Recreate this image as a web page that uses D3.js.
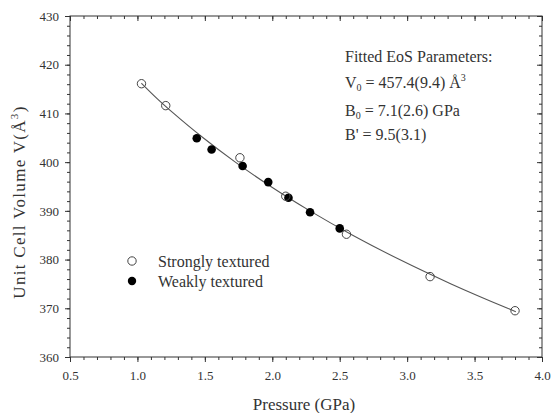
<!DOCTYPE html>
<html>
<head>
<meta charset="utf-8">
<script src="https://cdn.jsdelivr.net/npm/d3@7"></script>
<style>
  body { margin: 0; background: #fff; }
  svg { display: block; }
</style>
</head>
<body>
<div id="chart"></div>
<script>
// strongly textured (open circles)
const strongP = [1.03, 1.21, 1.76, 2.10, 2.55, 3.17, 3.80];
const strongV = [416.1, 411.6, 400.9, 393.0, 385.2, 376.5, 369.5];
// weakly textured (filled circles)
const weakP = [1.44, 1.55, 1.78, 1.97, 2.12, 2.28, 2.50];
const weakV = [404.9, 402.6, 399.2, 395.9, 392.7, 389.7, 386.4];
// fitted EoS line
const fitP = [1.03, 1.148, 1.269, 1.487, 1.726, 1.989, 2.279, 2.596, 2.944, 3.326, 3.745, 3.806];
const fitV = [416.2, 413, 410, 405, 400, 395, 390, 385, 380, 375, 370, 369.3];

const xTicks = [0.5, 1.0, 1.5, 2.0, 2.5, 3.0, 3.5, 4.0];
const yTicks = [360, 370, 380, 390, 400, 410, 420, 430];

const width = 551, height = 413;
const margin = { top: 16, right: 9, bottom: 56, left: 70 };
const innerW = width - margin.left - margin.right;
const innerH = height - margin.top - margin.bottom;

const font = "'Liberation Serif', 'Times New Roman', serif";
const ink = "#333";

const svg = d3.select("#chart").append("svg")
  .attr("width", width)
  .attr("height", height);

const g = svg.append("g")
  .attr("transform", `translate(${margin.left},${margin.top})`);

const x = d3.scaleLinear().domain([0.5, 4.0]).range([0, innerW]);
const y = d3.scaleLinear().domain([360, 430]).range([innerH, 0]);

const xMinor = d3.range(5, 41).map(d => d / 10);
const yMinor = d3.range(360, 431, 2);

function styleAxis(sel) {
  sel.select(".domain").remove();
  sel.selectAll("line").attr("stroke", ink).attr("stroke-width", 1);
  sel.selectAll("text")
    .attr("fill", ink)
    .style("font-family", font)
    .style("font-size", "13px");
}

// minor ticks
g.append("g").attr("transform", `translate(0,${innerH})`)
  .call(d3.axisBottom(x).tickValues(xMinor).tickSize(3).tickFormat(""))
  .call(styleAxis);
g.append("g")
  .call(d3.axisBottom(x).tickValues(xMinor).tickSize(3).tickFormat(""))
  .call(styleAxis);
g.append("g")
  .call(d3.axisLeft(y).tickValues(yMinor).tickSize(3).tickFormat(""))
  .call(styleAxis);
g.append("g").attr("transform", `translate(${innerW},0)`)
  .call(d3.axisLeft(y).tickValues(yMinor).tickSize(3).tickFormat(""))
  .call(styleAxis);

// major ticks
g.append("g").attr("transform", `translate(0,${innerH})`)
  .call(d3.axisBottom(x).tickValues(xTicks).tickSize(5).tickPadding(9).tickFormat(d3.format(".1f")))
  .call(styleAxis);
g.append("g")
  .call(d3.axisBottom(x).tickValues(xTicks).tickSize(5).tickFormat(""))
  .call(styleAxis);
g.append("g")
  .call(d3.axisLeft(y).tickValues(yTicks).tickSize(5).tickPadding(6).tickFormat(d3.format("d")))
  .call(styleAxis);
g.append("g").attr("transform", `translate(${innerW},0)`)
  .call(d3.axisLeft(y).tickValues(yTicks).tickSize(5).tickFormat(""))
  .call(styleAxis);

// frame
g.append("rect")
  .attr("width", innerW).attr("height", innerH)
  .attr("fill", "none").attr("stroke", ink).attr("stroke-width", 1);

// fitted curve
const fit = fitP.map((p, i) => [p, fitV[i]]);
g.append("path")
  .datum(fit)
  .attr("fill", "none")
  .attr("stroke", "#555")
  .attr("stroke-width", 1.1)
  .attr("d", d3.line().x(d => x(d[0])).y(d => y(d[1])).curve(d3.curveMonotoneX));

// points
g.selectAll(".weak")
  .data(weakP.map((p, i) => [p, weakV[i]]))
  .join("circle")
  .attr("cx", d => x(d[0])).attr("cy", d => y(d[1]))
  .attr("r", 4.3)
  .attr("fill", "#000");

g.selectAll(".strong")
  .data(strongP.map((p, i) => [p, strongV[i]]))
  .join("circle")
  .attr("cx", d => x(d[0])).attr("cy", d => y(d[1]))
  .attr("r", 4.2)
  .attr("fill", "none")
  .attr("stroke", "#444")
  .attr("stroke-width", 1);

// axis titles
svg.append("text")
  .attr("x", 304)
  .attr("y", 410)
  .attr("text-anchor", "middle")
  .attr("fill", ink)
  .style("font-family", font)
  .style("font-size", "17px")
  .text("Pressure (GPa)");

const yl = svg.append("text")
  .attr("transform", `translate(25,202) rotate(-90)`)
  .attr("text-anchor", "middle")
  .attr("fill", ink)
  .style("font-family", font)
  .style("font-size", "17px")
  .style("letter-spacing", "1.3px");
yl.append("tspan").text("Unit Cell Volume V(Å");
yl.append("tspan").attr("dy", -7).style("font-size", "11px").text("3");
yl.append("tspan").attr("dy", 7).text(")");

// legend
const legend = svg.append("g");
const legendRows = [
  { label: "Strongly textured", filled: false, y: 261 },
  { label: "Weakly textured", filled: true, y: 281 }
];
legendRows.forEach(r => {
  legend.append("circle")
    .attr("cx", 132).attr("cy", r.y).attr("r", 4.2)
    .attr("fill", r.filled ? "#000" : "none")
    .attr("stroke", r.filled ? "none" : "#444");
  legend.append("text")
    .attr("x", 158).attr("y", r.y + 6)
    .attr("fill", ink)
    .style("font-family", font)
    .style("font-size", "16px")
    .text(r.label);
});

// fitted parameters
const ann = svg.append("g")
  .attr("fill", ink)
  .style("font-family", font)
  .style("font-size", "16px");
ann.append("text").attr("x", 345).attr("y", 62).text("Fitted EoS Parameters:");
const t1 = ann.append("text").attr("x", 345).attr("y", 88);
t1.append("tspan").text("V");
t1.append("tspan").attr("dy", 3).style("font-size", "10px").text("0");
t1.append("tspan").attr("dy", -3).text(" = 457.4(9.4) Å");
t1.append("tspan").attr("dy", -7).style("font-size", "10px").text("3");
const t2 = ann.append("text").attr("x", 345).attr("y", 116);
t2.append("tspan").text("B");
t2.append("tspan").attr("dy", 3).style("font-size", "10px").text("0");
t2.append("tspan").attr("dy", -3).text(" = 7.1(2.6) GPa");
ann.append("text").attr("x", 345).attr("y", 140).text("B' = 9.5(3.1)");
</script>
</body>
</html>
